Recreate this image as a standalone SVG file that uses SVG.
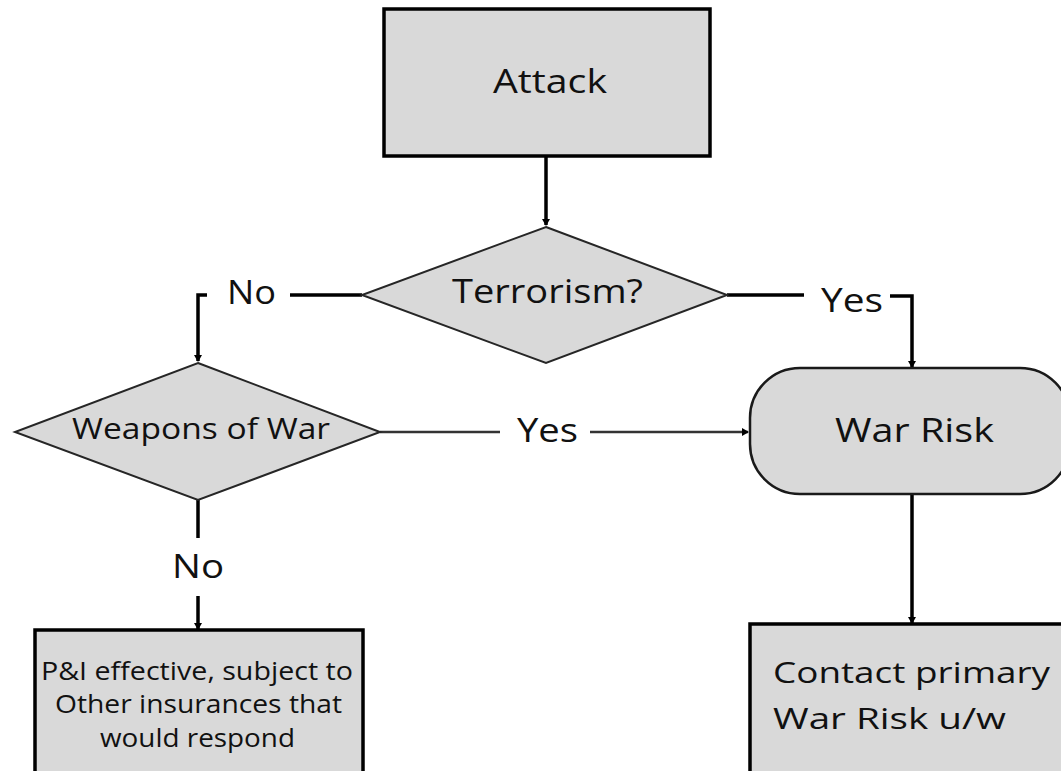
<svg xmlns="http://www.w3.org/2000/svg" width="1061" height="771" viewBox="0 0 1061 771">
  <defs>
    <style>
      .box{fill:#d9d9d9;stroke:#000;stroke-width:3.5}
      .dia{fill:#d9d9d9;stroke:#262626;stroke-width:2}
      .rnd{fill:#d9d9d9;stroke:#1a1a1a;stroke-width:2.5}
      .ln{fill:none;stroke:#000;stroke-width:3.5}
      .ln2{fill:none;stroke:#333;stroke-width:2.5}
      text{font-family:"Open Sans","Noto Sans",sans-serif;fill:#111;text-anchor:middle}
      .big{font-size:33px}
      .mid{font-size:29px}
      .sm{font-size:25px}
      .ct{font-size:30px;text-anchor:start}
    </style>
    <marker id="ah" markerWidth="10" markerHeight="10" refX="6" refY="4" orient="auto" markerUnits="userSpaceOnUse">
      <path d="M0,0 L7,4 L0,8 Z" fill="#000"/>
    </marker>
  </defs>

  <g id="connectors">
    <path class="ln" d="M546,156 V225" marker-end="url(#ah)"/>
    <path class="ln" d="M362,295 H290"/>
    <path class="ln" d="M207,295 H198 V361" marker-end="url(#ah)"/>
    <path class="ln" d="M727,295 H804"/>
    <path class="ln" d="M890,296 H912 V367" marker-end="url(#ah)"/>
    <path class="ln2" d="M380,432 H500"/>
    <path class="ln2" d="M590,432 H748" marker-end="url(#ah)"/>
    <path class="ln" d="M198,500 V538"/>
    <path class="ln" d="M198,596 V629" marker-end="url(#ah)"/>
    <path class="ln" d="M912,494 V623" marker-end="url(#ah)"/>
    <text class="big" x="251.5" y="304" textLength="49" lengthAdjust="spacingAndGlyphs">No</text>
    <text class="big" x="852" y="312" textLength="62" lengthAdjust="spacingAndGlyphs">Yes</text>
    <text class="big" x="547.5" y="442" textLength="61" lengthAdjust="spacingAndGlyphs">Yes</text>
    <text class="big" x="198" y="578" textLength="52" lengthAdjust="spacingAndGlyphs">No</text>
  </g>

  <g id="attack">
    <rect class="box" x="384" y="9" width="326" height="147"/>
    <text class="big" x="550" y="93" textLength="114" lengthAdjust="spacingAndGlyphs">Attack</text>
  </g>

  <g id="terrorism">
    <polygon class="dia" points="546,227 727,295 546,363 362,295"/>
    <text class="big" x="547.5" y="303" textLength="191" lengthAdjust="spacingAndGlyphs">Terrorism?</text>
  </g>

  <g id="weapons">
    <polygon class="dia" points="198,363 380,432 198,500 15,432"/>
    <text class="mid" x="201" y="439" textLength="258" lengthAdjust="spacingAndGlyphs">Weapons of War</text>
  </g>

  <g id="warrisk">
    <rect class="rnd" x="750" y="368" width="320" height="126" rx="50" ry="50"/>
    <text class="big" x="914.5" y="442" textLength="159" lengthAdjust="spacingAndGlyphs">War Risk</text>
  </g>

  <g id="pandi">
    <rect class="box" x="35" y="630" width="328" height="160"/>
    <text class="sm" x="197" y="680" textLength="312" lengthAdjust="spacingAndGlyphs">P&amp;I effective,  subject to</text>
    <text class="sm" x="198.5" y="713" textLength="287" lengthAdjust="spacingAndGlyphs">Other insurances that</text>
    <text class="sm" x="197.5" y="747" textLength="195" lengthAdjust="spacingAndGlyphs">would respond</text>
  </g>

  <g id="contact">
    <rect class="box" x="750" y="624" width="330" height="160"/>
    <text class="ct" x="773" y="683" textLength="277" lengthAdjust="spacingAndGlyphs">Contact primary</text>
    <text class="ct" x="773" y="729" textLength="233" lengthAdjust="spacingAndGlyphs">War Risk u/w</text>
  </g>
</svg>
